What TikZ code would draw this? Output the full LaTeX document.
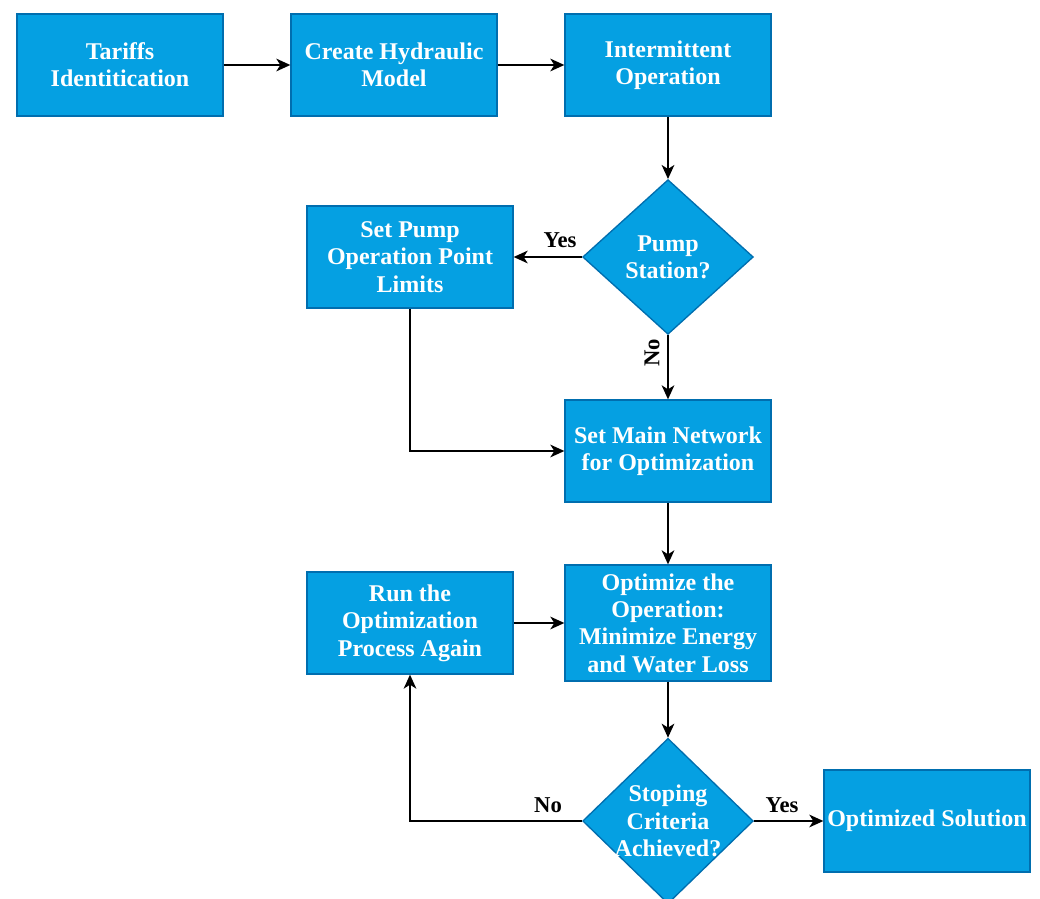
\documentclass[tikz,border=0pt]{standalone}
\usepackage{fontspec}
\setmainfont{Liberation Serif}
\usetikzlibrary{arrows.meta, shapes.geometric}

\definecolor{flowblue}{HTML}{05A0E2}
\definecolor{flowedge}{HTML}{006EAF}

\begin{document}
\begin{tikzpicture}[
	x=0.75pt, y=-0.75pt,
	box/.style={rectangle, fill=flowblue, draw=flowedge, line width=1pt, minimum width=154.5pt, minimum height=#1, inner sep=0pt, text=white, align=center, font=\bfseries\fontsize{18}{20.5}\selectfont},
	box/.default=76.5pt,
	decision/.style={diamond, fill=flowblue, draw=flowedge, line width=1pt, minimum width=128pt, minimum height=#1, inner sep=0pt},
	decision/.default=116pt,
	dtext/.style={text=white, align=center, inner sep=0pt, font=\bfseries\fontsize{18}{20.5}\selectfont},
	answer/.style={font=\bfseries\fontsize{17}{20}\selectfont, inner sep=0pt},
	flow/.style={-{Stealth[length=10.5pt, width=9.5pt, inset=3pt]}, line width=1.3pt}
]

\useasboundingbox (0,0) rectangle (1040,899);

\node[box] (tariffs) at (120,65) {Tariffs\\Identitication};
\node[box] (model) at (394,65) {Create Hydraulic\\Model};
\node[box] (intermit) at (668,65) {Intermittent\\Operation};

\node[decision] (pump) at (668,257) {};
\node[dtext] (pumptxt) at (pump) {Pump\\Station?};
\node[box] (limits) at (410,257) {Set Pump\\Operation Point\\Limits};

\node[box] (network) at (668,451) {Set Main Network\\for Optimization};

\node[box=87pt] (optimize) at (668,623) {Optimize the\\Operation:\\Minimize Energy\\and Water Loss};
\node[box] (again) at (410,623) {Run the\\Optimization\\Process Again};

\node[decision=124pt] (stop) at (668,821) {};
\node[dtext] (stoptxt) at (stop) {Stoping\\Criteria\\Achieved?};
\node[box] (solution) at (927,821) {Optimized Solution};

\draw[flow] (tariffs) -- (model);
\draw[flow] (model) -- (intermit);
\draw[flow] (intermit) -- (pump);
\draw[flow] (pump.west) -- (limits.east);
\draw[flow] (pump.south) -- (network.north);
\draw[flow] (limits.south) |- (network.west);
\draw[flow] (network) -- (optimize);
\draw[flow] (again) -- (optimize);
\draw[flow] (optimize.south) -- (stop.north);
\draw[flow] (stop.west) -| (again.south);
\draw[flow] (stop.east) -- (solution.west);

\node[answer] (yes1) at (560,240) {Yes};
\node[answer, rotate=90] (no1) at (652,353) {No};
\node[answer] (no2) at (548,805) {No};
\node[answer] (yes2) at (782,805) {Yes};

\end{tikzpicture}
\end{document}
